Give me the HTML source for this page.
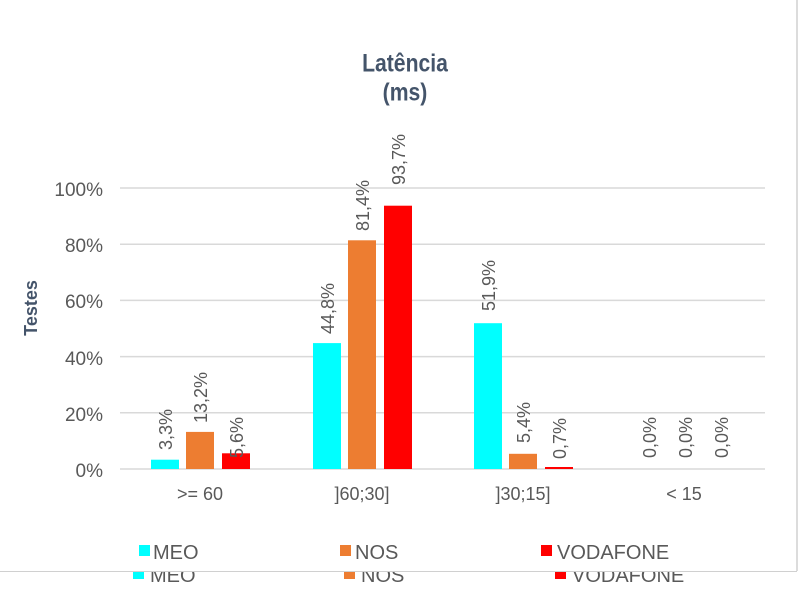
<!DOCTYPE html>
<html><head><meta charset="utf-8"><style>
html,body{margin:0;padding:0;background:#fff;width:800px;height:600px;overflow:hidden}
svg{display:block;font-family:"Liberation Sans",sans-serif}
</style></head><body>
<svg width="800" height="600" viewBox="0 0 800 600">
<line x1="797" y1="0" x2="797" y2="571" stroke="#d0d0d0" stroke-width="1.5"/>
<line x1="0" y1="571.5" x2="797" y2="571.5" stroke="#d0d0d0" stroke-width="1"/>
<text x="405" y="66" text-anchor="middle" font-size="23" font-weight="bold" fill="#44546a" transform="translate(405,0) scale(0.92,1.08) translate(-405,0)">Latência</text>
<text x="405" y="93" text-anchor="middle" font-size="23" font-weight="bold" fill="#44546a" transform="translate(405,0) scale(0.92,1.08) translate(-405,0)">(ms)</text>
<text transform="translate(37,308) rotate(-90)" text-anchor="middle" font-size="18" font-weight="bold" fill="#44546a">Testes</text>
<g stroke="#d9d9d9" stroke-width="1.5">
<line x1="120" y1="188" x2="765" y2="188"/><line x1="120" y1="244.2" x2="765" y2="244.2"/>
<line x1="120" y1="300.4" x2="765" y2="300.4"/><line x1="120" y1="356.6" x2="765" y2="356.6"/>
<line x1="120" y1="412.8" x2="765" y2="412.8"/><line x1="120" y1="469" x2="765" y2="469"/>
</g>
<g font-size="19" fill="#595959" text-anchor="end">
<text x="103" y="196">100%</text><text x="103" y="252">80%</text><text x="103" y="308">60%</text>
<text x="103" y="365">40%</text><text x="103" y="421">20%</text><text x="103" y="477">0%</text>
</g>
<g font-size="18" fill="#595959" text-anchor="middle">
<text x="200" y="500">&gt;= 60</text><text x="362" y="500">]60;30]</text>
<text x="523" y="500">]30;15]</text><text x="684" y="500">&lt; 15</text>
</g>
<g>
<rect x="151" y="459.7" width="28" height="9.3" fill="#00ffff"/>
<rect x="186" y="431.9" width="28" height="37.1" fill="#ed7d31"/>
<rect x="222" y="453.3" width="28" height="15.7" fill="#ff0000"/>
<rect x="313" y="343.1" width="28" height="125.9" fill="#00ffff"/>
<rect x="348" y="240.3" width="28" height="228.7" fill="#ed7d31"/>
<rect x="384" y="205.7" width="28" height="263.3" fill="#ff0000"/>
<rect x="474" y="323.2" width="28" height="145.8" fill="#00ffff"/>
<rect x="509" y="453.8" width="28" height="15.2" fill="#ed7d31"/>
<rect x="545" y="467" width="28" height="2" fill="#ff0000"/>
</g>
<g font-size="18" fill="#595959">
<text transform="translate(172,450) rotate(-90)">3,3%</text>
<text transform="translate(207,423) rotate(-90)">13,2%</text>
<text transform="translate(243,458) rotate(-90)">5,6%</text>
<text transform="translate(334,334) rotate(-90)">44,8%</text>
<text transform="translate(369,231) rotate(-90)">81,4%</text>
<text transform="translate(405,185) rotate(-90)">93,7%</text>
<text transform="translate(495,311) rotate(-90)">51,9%</text>
<text transform="translate(530,443) rotate(-90)">5,4%</text>
<text transform="translate(566,459) rotate(-90)">0,7%</text>
<text transform="translate(656,458) rotate(-90)">0,0%</text>
<text transform="translate(692,458) rotate(-90)">0,0%</text>
<text transform="translate(728,458) rotate(-90)">0,0%</text>
</g>
<g font-size="20" fill="#595959">
<rect x="139" y="545" width="11" height="11" fill="#00ffff"/><text x="153" y="559">MEO</text>
<rect x="340" y="545" width="11" height="11" fill="#ed7d31"/><text x="355" y="559">NOS</text>
<rect x="541" y="545" width="11" height="11" fill="#ff0000"/><text x="557" y="559">VODAFONE</text>
</g>
<svg x="0" y="572" width="800" height="11" overflow="hidden">
<g font-size="20" fill="#595959">
<rect x="133" y="-4" width="11" height="11" fill="#00ffff"/><text x="150" y="10">MEO</text>
<rect x="344" y="-4" width="11" height="11" fill="#ed7d31"/><text x="361" y="10">NOS</text>
<rect x="555" y="-4" width="11" height="11" fill="#ff0000"/><text x="572" y="10">VODAFONE</text>
</g>
</svg>
</svg>
</body></html>
